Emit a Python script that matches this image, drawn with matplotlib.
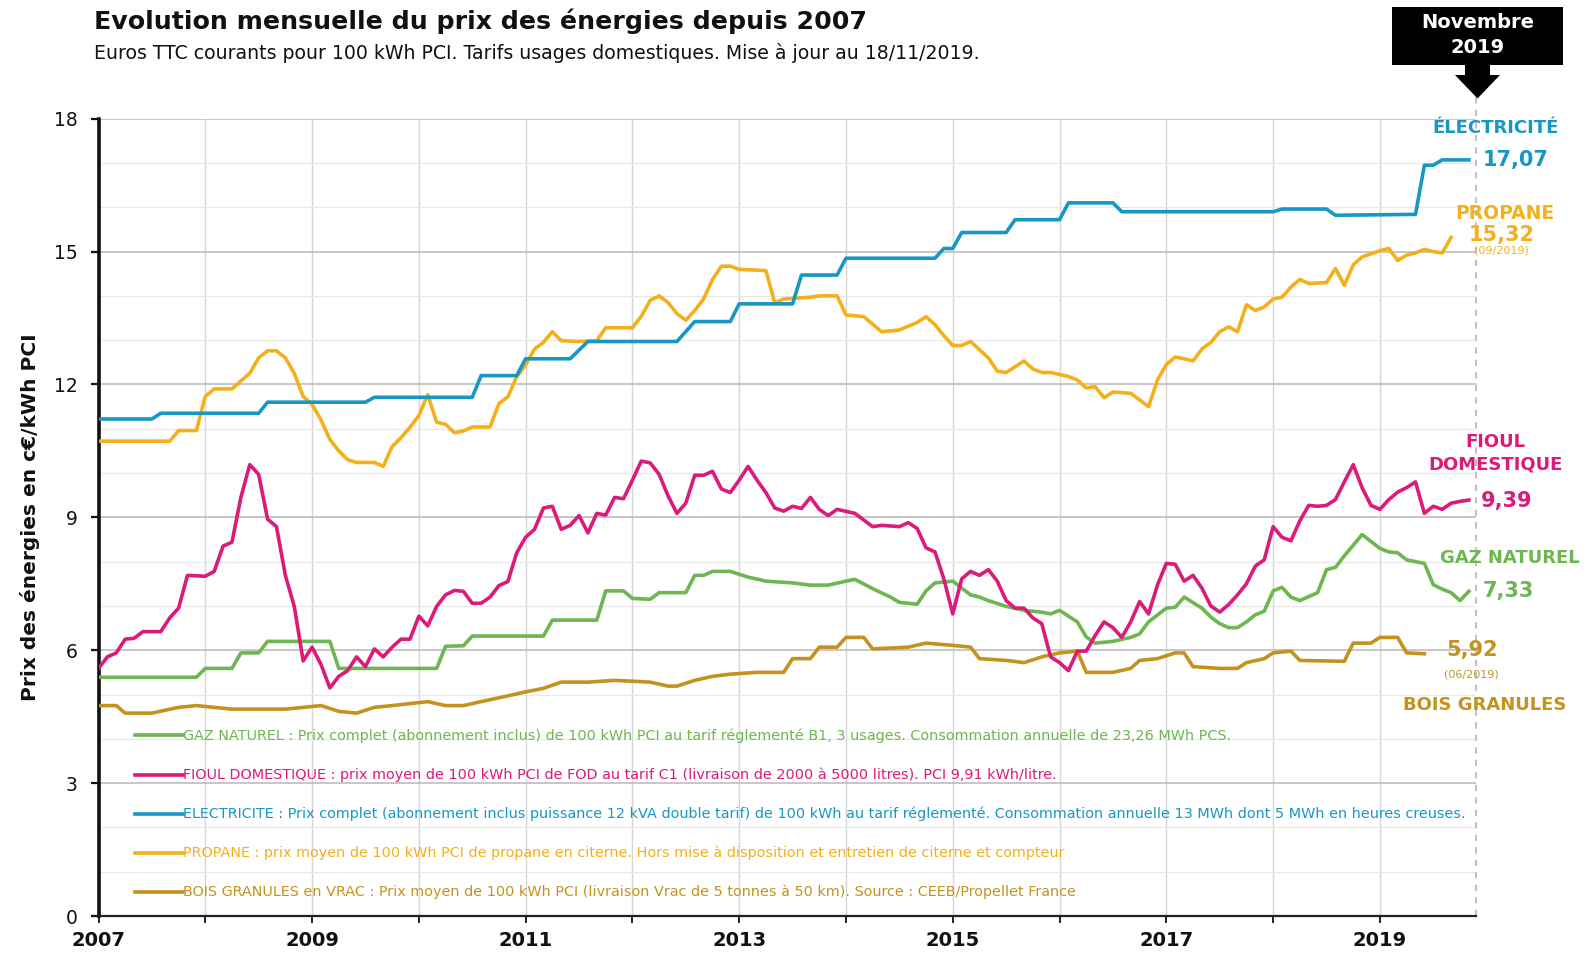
import matplotlib
matplotlib.use('Agg')
import matplotlib.pyplot as plt
from matplotlib.patches import Rectangle, Polygon
from matplotlib.ticker import MultipleLocator, FixedLocator

plt.rcParams['font.family'] = ['DejaVu Sans']

# month index: 0 = janvier 2007
ELEC_M = [0, 6, 7, 18, 19, 30, 31, 42, 43, 47, 48, 53, 55, 65, 67, 71, 72, 78, 79, 83, 84,
          94, 95, 96, 97, 102, 103, 108, 109, 114, 115, 132, 133, 138, 139, 148, 149, 150,
          151, 154]
ELEC_V = [11.22, 11.22, 11.35, 11.35, 11.6, 11.6, 11.71, 11.71, 12.2, 12.2, 12.58, 12.58,
          12.97, 12.97, 13.42, 13.42, 13.82, 13.82, 14.47, 14.47, 14.85, 14.85, 15.07, 15.07,
          15.43, 15.43, 15.72, 15.72, 16.1, 16.1, 15.9, 15.9, 15.96, 15.96, 15.82, 15.84,
          16.95, 16.95, 17.07, 17.07]

PROP_M = [0, 8, 9, 11, 12, 13, 15, 16, 17, 18, 19, 20, 21, 22, 23, 24, 25, 26, 27, 28, 29,
          31, 32, 33, 34, 35, 36, 37, 38, 39, 40, 41, 42, 44, 45, 46, 47, 48, 49, 50, 51, 52,
          54, 56, 57, 60, 61, 62, 63, 64, 65, 66, 67, 68, 69, 70, 71, 72, 75, 76, 77, 80, 81,
          83, 84, 86, 88, 90, 92, 93, 94, 95, 96, 97, 98, 100, 101, 102, 104, 105, 106, 107,
          109, 110, 111, 112, 113, 114, 116, 117, 118, 119, 120, 121, 122, 123, 124, 125, 126,
          127, 128, 129, 130, 131, 132, 133, 134, 135, 136, 138, 139, 140, 141, 142, 143, 144,
          145, 146, 147, 148, 149, 150, 151, 152]
PROP_V = [10.72, 10.72, 10.96, 10.96, 11.73, 11.9, 11.9, 12.08, 12.25, 12.6, 12.76, 12.76,
          12.6, 12.25, 11.73, 11.55, 11.2, 10.76, 10.5, 10.3, 10.24, 10.24, 10.15, 10.6, 10.8,
          11.03, 11.3, 11.77, 11.15, 11.1, 10.91, 10.95, 11.04, 11.04, 11.57, 11.72, 12.18,
          12.44, 12.8, 12.95, 13.19, 12.99, 12.97, 12.99, 13.28, 13.28, 13.54, 13.9, 14.0,
          13.85, 13.6, 13.45, 13.67, 13.93, 14.37, 14.67, 14.67, 14.6, 14.57, 13.84, 13.93,
          13.97, 14.0, 14.0, 13.57, 13.53, 13.19, 13.23, 13.4, 13.53, 13.35, 13.1, 12.88,
          12.88, 12.97, 12.6, 12.3, 12.27, 12.53, 12.35, 12.27, 12.27, 12.18, 12.1, 11.92,
          11.95, 11.7, 11.83, 11.8, 11.65, 11.5, 12.1, 12.45, 12.62, 12.58, 12.53, 12.8, 12.95,
          13.19, 13.3, 13.19, 13.8, 13.67, 13.75, 13.93, 13.97, 14.2, 14.37, 14.28, 14.3,
          14.62, 14.24, 14.7, 14.88, 14.95, 15.02, 15.07, 14.8, 14.92, 14.97, 15.05, 15.0,
          14.97, 15.32]

FIOUL_M = list(range(0, 84)) + [85, 87, 88] + list(range(90, 155))
FIOUL_V = [5.59, 5.85, 5.94, 6.25, 6.27, 6.42, 6.42, 6.42, 6.73, 6.95, 7.69, 7.68, 7.67,
           7.78, 8.35, 8.44, 9.45, 10.19, 9.97, 8.96, 8.79, 7.69, 6.99, 5.76, 6.07, 5.68,
           5.15, 5.41, 5.54, 5.85, 5.63, 6.03, 5.85, 6.07, 6.25, 6.25, 6.77, 6.55, 6.99, 7.25,
           7.35, 7.33, 7.06, 7.06, 7.2, 7.46, 7.55, 8.2, 8.55, 8.73, 9.21, 9.25, 8.73, 8.82,
           9.04, 8.65, 9.09, 9.05, 9.45, 9.42, 9.84, 10.27, 10.23, 9.97, 9.49, 9.09, 9.32,
           9.95, 9.95, 10.04, 9.64, 9.56, 9.84, 10.15, 9.84, 9.56, 9.21, 9.14, 9.25, 9.2, 9.45,
           9.18, 9.04, 9.18,
           9.09, 8.79, 8.82,
           8.79, 8.88, 8.75, 8.31, 8.22, 7.61, 6.82, 7.61, 7.78, 7.69, 7.82, 7.56, 7.12, 6.95,
           6.95, 6.73, 6.6, 5.85, 5.72, 5.54, 5.98, 5.98, 6.33, 6.64, 6.51, 6.29, 6.64, 7.1,
           6.82, 7.47, 7.96, 7.94, 7.56, 7.69, 7.4, 7.0, 6.86, 7.03, 7.25, 7.5, 7.9, 8.04,
           8.79, 8.55, 8.47, 8.92, 9.27, 9.25, 9.27, 9.4, 9.8, 10.19, 9.67, 9.27, 9.18, 9.4,
           9.57, 9.67, 9.8, 9.09, 9.25, 9.18, 9.32, 9.36, 9.39]

GAZ_M = [0, 11, 12, 15, 16, 18, 19, 26, 27, 38, 39, 41, 42, 50, 51, 56, 57, 59, 60, 62, 63,
         66, 67, 68, 69, 71, 73, 75, 78, 80, 82, 84, 85, 87, 89, 90, 92, 93, 94, 96, 98, 99,
         100, 102, 104, 106, 107, 108, 110, 111, 112, 114, 116, 117, 118, 120, 121, 122, 124,
         125, 126, 127, 128, 129, 130, 131, 132, 133, 134, 135, 137, 138, 139, 140, 142, 144,
         145, 146, 147, 149, 150, 151, 152, 153, 154]
GAZ_V = [5.39, 5.39, 5.59, 5.59, 5.94, 5.94, 6.2, 6.2, 5.59, 5.59, 6.09, 6.1, 6.32, 6.32,
         6.68, 6.68, 7.34, 7.34, 7.17, 7.15, 7.3, 7.3, 7.69, 7.69, 7.78, 7.78, 7.65, 7.56,
         7.52, 7.47, 7.47, 7.56, 7.6, 7.39, 7.2, 7.08, 7.04, 7.34, 7.52, 7.56, 7.25, 7.2, 7.12,
         6.99, 6.9, 6.86, 6.82, 6.9, 6.64, 6.3, 6.16, 6.2, 6.29, 6.37, 6.64, 6.95, 6.97, 7.2,
         6.95, 6.75, 6.6, 6.51, 6.51, 6.64, 6.8, 6.88, 7.34, 7.42, 7.2, 7.12, 7.3, 7.82, 7.87,
         8.13, 8.61, 8.3, 8.22, 8.2, 8.04, 7.96, 7.48, 7.38, 7.3, 7.12, 7.33]

BOIS_M = [0, 2, 3, 6, 9, 11, 15, 21, 25, 27, 29, 31, 33, 37, 39, 41, 43, 46, 48, 50, 52, 55,
          58, 62, 64, 65, 67, 69, 71, 74, 77, 78, 80, 81, 83, 84, 86, 87, 91, 93, 96, 98, 99,
          102, 104, 106, 108, 110, 111, 114, 116, 117, 119, 121, 122, 123, 126, 128, 129, 131,
          132, 134, 135, 140, 141, 143, 144, 146, 147, 149]
BOIS_V = [4.75, 4.75, 4.58, 4.58, 4.71, 4.75, 4.67, 4.67, 4.75, 4.62, 4.58, 4.71, 4.75, 4.84,
          4.75, 4.75, 4.84, 4.97, 5.06, 5.14, 5.28, 5.28, 5.32, 5.28, 5.19, 5.19, 5.32, 5.41,
          5.46, 5.5, 5.5, 5.81, 5.81, 6.07, 6.07, 6.29, 6.29, 6.03, 6.07, 6.16, 6.11, 6.07,
          5.81, 5.77, 5.72, 5.85, 5.94, 5.98, 5.5, 5.5, 5.59, 5.77, 5.81, 5.94, 5.94, 5.63,
          5.59, 5.59, 5.72, 5.81, 5.94, 5.98, 5.77, 5.75, 6.16, 6.16, 6.29, 6.29, 5.94, 5.92]

C_ELEC = '#1797c4'
C_PROP = '#f4b01a'
C_FIOUL = '#dc1a7a'
C_GAZ = '#6db650'
C_BOIS = '#c4921f'

LEGEND = [
    ('GAZ NATUREL : Prix complet (abonnement inclus) de 100 kWh PCI au tarif réglementé B1, '
     '3 usages. Consommation annuelle de 23,26 MWh PCS.', C_GAZ),
    ('FIOUL DOMESTIQUE : prix moyen de 100 kWh PCI de FOD au tarif C1 (livraison de 2000 à '
     '5000 litres). PCI 9,91 kWh/litre.', C_FIOUL),
    ('ELECTRICITE : Prix complet (abonnement inclus puissance 12 kVA double tarif) de 100 kWh '
     'au tarif réglementé. Consommation annuelle 13 MWh dont 5 MWh en heures creuses.', C_ELEC),
    ('PROPANE : prix moyen de 100 kWh PCI de propane en citerne. Hors mise à disposition et '
     'entretien de citerne et compteur', C_PROP),
    ('BOIS GRANULES en VRAC : Prix moyen de 100 kWh PCI (livraison Vrac de 5 tonnes à 50 km). '
     'Source : CEEB/Propellet France', C_BOIS),
]
LEGEND_Y = [4.08, 3.18, 2.3, 1.42, 0.55]

X_END = 2019.9


def to_year(months):
    return [2007 + m / 12 for m in months]


fig = plt.figure(figsize=(15.91, 9.58), dpi=100)
W, H = 1591, 958
ax = fig.add_axes([98.5 / W, 42 / H, (1476 - 98.5) / W, (916.3 - 119) / H])

ax.set_xlim(2007, X_END)
ax.set_ylim(0, 18)

ax.yaxis.set_major_locator(MultipleLocator(3))
ax.yaxis.set_minor_locator(MultipleLocator(1))
ax.xaxis.set_major_locator(FixedLocator(list(range(2007, 2020))))
ax.set_xticklabels([str(y) if y % 2 == 1 else '' for y in range(2007, 2020)])

ax.grid(which='minor', axis='y', color='#e8e8e8', lw=0.9, zorder=0)
ax.grid(which='major', axis='y', color='#bdbdbd', lw=1.2, zorder=0)
ax.grid(which='major', axis='x', color='#d6d6d6', lw=1.0, zorder=0)
ax.tick_params(axis='y', which='minor', length=0)
ax.tick_params(axis='y', which='major', direction='out', length=6, width=1.6,
               labelsize=13.5, pad=9, colors='#111111')
ax.tick_params(axis='x', which='major', direction='out', length=5, width=1.3,
               labelsize=14, pad=6, colors='#111111')
for lbl in ax.get_xticklabels():
    lbl.set_fontweight('bold')

for s in ['top', 'right']:
    ax.spines[s].set_visible(False)
ax.spines['left'].set_linewidth(2.6)
ax.spines['left'].set_color('#111111')
ax.spines['bottom'].set_linewidth(1.6)
ax.spines['bottom'].set_color('#222222')

lw = 2.6
ax.plot(to_year(BOIS_M), BOIS_V, color=C_BOIS, lw=lw, zorder=3)
ax.plot(to_year(GAZ_M), GAZ_V, color=C_GAZ, lw=lw, zorder=3)
ax.plot(to_year(FIOUL_M), FIOUL_V, color=C_FIOUL, lw=lw, zorder=4)
ax.plot(to_year(PROP_M), PROP_V, color=C_PROP, lw=lw, zorder=4)
ax.plot(to_year(ELEC_M), ELEC_V, color=C_ELEC, lw=lw, zorder=5)

# ligne pointillee novembre 2019
ax.axvline(X_END, ymin=0, ymax=18.5 / 18, color='#c9bfc2', lw=1.5, ls=(0, (3, 3)),
           clip_on=False, zorder=2)

# legende
for (txt, col), yv in zip(LEGEND, LEGEND_Y):
    ax.plot([0.0265, 0.061], [yv / 18, yv / 18], color=col, lw=2.6,
            transform=ax.transAxes, zorder=6)
    ax.text(0.0615, yv / 18, txt, color=col, fontsize=10.35, va='center', ha='left',
            transform=ax.transAxes, zorder=6)

# etiquettes a droite
bold = dict(fontweight='bold', clip_on=False)
ax.text(2020.08, 17.79, 'ÉLECTRICITÉ', color=C_ELEC, fontsize=13, ha='center', va='center', **bold)
ax.text(2019.96, 17.07, '17,07', color=C_ELEC, fontsize=15, ha='left', va='center', **bold)
ax.text(2020.17, 15.85, 'PROPANE', color=C_PROP, fontsize=13.5, ha='center', va='center', **bold)
ax.text(2020.14, 15.38, '15,32', color=C_PROP, fontsize=15, ha='center', va='center', **bold)
ax.text(2020.14, 15.02, '(09/2019)', color=C_PROP, fontsize=8, ha='center', va='center',
        clip_on=False)
ax.text(2020.08, 10.71, 'FIOUL', color=C_FIOUL, fontsize=13, ha='center', va='center', **bold)
ax.text(2020.08, 10.19, 'DOMESTIQUE', color=C_FIOUL, fontsize=13, ha='center', va='center', **bold)
ax.text(2019.95, 9.36, '9,39', color=C_FIOUL, fontsize=15, ha='left', va='center', **bold)
ax.text(2020.22, 8.09, 'GAZ NATUREL', color=C_GAZ, fontsize=13, ha='center', va='center', **bold)
ax.text(2019.96, 7.33, '7,33', color=C_GAZ, fontsize=15, ha='left', va='center', **bold)
ax.text(2019.62, 6.01, '5,92', color=C_BOIS, fontsize=15, ha='left', va='center', **bold)
ax.text(2019.86, 5.45, '(06/2019)', color=C_BOIS, fontsize=8, ha='center', va='center',
        clip_on=False)
ax.text(2019.98, 4.77, 'BOIS GRANULES', color=C_BOIS, fontsize=13, ha='center', va='center', **bold)

# titres
fig.text(94.4 / W, 1 - 29.5 / H, 'Evolution mensuelle du prix des énergies depuis 2007',
         fontsize=18.2, fontweight='bold', color='#111111', va='baseline', ha='left')
fig.text(94.4 / W, 1 - 59 / H,
         'Euros TTC courants pour 100 kWh PCI. Tarifs usages domestiques. '
         'Mise à jour au 18/11/2019.',
         fontsize=13.6, color='#111111', va='baseline', ha='left')
fig.text(30.5 / W, 1 - 517 / H, 'Prix des énergies en c€/kWh PCI', rotation=90,
         fontsize=14.5, fontweight='bold', color='#111111', va='center', ha='center')

# encadre "Novembre 2019" + fleche
fig.patches.append(Rectangle((1391.7 / W, 1 - 65 / H), (1563.3 - 1391.7) / W, 58.3 / H,
                             transform=fig.transFigure, facecolor='black', edgecolor='none'))
arrow_px = [(1465, 64), (1490, 64), (1490, 75), (1500, 75), (1477.5, 98.5), (1455, 75),
            (1465, 75)]
fig.patches.append(Polygon([(x / W, 1 - y / H) for x, y in arrow_px], closed=True,
                           transform=fig.transFigure, facecolor='black', edgecolor='none'))
fig.text(1477.5 / W, 1 - 22 / H, 'Novembre', color='white', fontsize=14, fontweight='bold',
         ha='center', va='center')
fig.text(1477.5 / W, 1 - 47.5 / H, '2019', color='white', fontsize=14, fontweight='bold',
         ha='center', va='center')

fig.savefig('out.png', dpi=100, facecolor='white')
